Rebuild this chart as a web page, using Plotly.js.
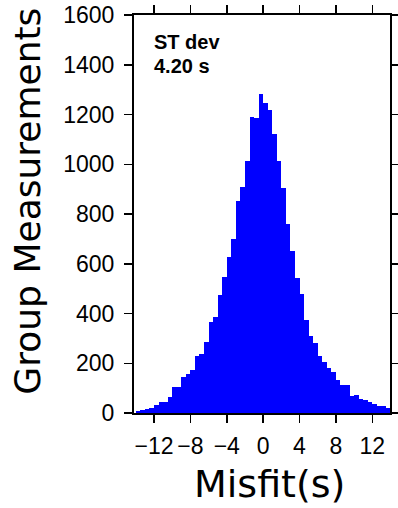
<!DOCTYPE html>
<html>
<head>
<meta charset="utf-8">
<script src="https://cdn.plot.ly/plotly-3.0.1.min.js"></script>
<style>html,body{margin:0;padding:0;background:#fff;}#chart{width:398px;height:508px;}</style>
</head>
<body>
<div id="chart"></div>
<script>
// Bin centers (bin width 0.5 s), from -13.75 to 13.75
var binCenters = [-13.75,-13.25,-12.75,-12.25,-11.75,-11.25,-10.75,-10.25,-9.75,-9.25,
  -8.75,-8.25,-7.75,-7.25,-6.75,-6.25,-5.75,-5.25,-4.75,-4.25,
  -3.75,-3.25,-2.75,-2.25,-1.75,-1.25,-0.75,-0.25,
  0.25,0.75,1.25,1.75,2.25,2.75,3.25,3.75,4.25,4.75,
  5.25,5.75,6.25,6.75,7.25,7.75,8.25,8.75,9.25,9.75,
  10.25,10.75,11.25,11.75,12.25,12.75,13.25,13.75];
var counts = [8,14,18,20,31,43,44,63,103,103,
  143,156,171,228,236,284,365,385,474,546,
  626,699,852,908,1014,1190,1186,1282,
  1246,1218,1121,1013,904,759,651,542,478,374,
  309,280,228,204,180,164,132,111,111,67,
  71,58,51,46,35,30,27,19];
var binWidth = 0.5;
var xTickVals = [-12,-8,-4,0,4,8,12];
var yTickVals = [0,200,400,600,800,1000,1200,1400,1600];
var xTitle = "Misfit(s)";
var yTitle = "Group Measurements";
var statLabel = "ST dev";
var statValue = "4.20 s";

var trace = {
  type: 'bar',
  x: binCenters,
  y: counts,
  width: binCenters.map(function(){return binWidth;}),
  marker: {color: '#0000FF', line: {width: 0}},
  hoverinfo: 'x+y'
};

var tickFont = {family: 'Liberation Sans, Arial, sans-serif', size: 23, color: '#000'};

var layout = {
  width: 398, height: 508,
  margin: {l: 134, r: 8, t: 15, b: 95, pad: 0},
  paper_bgcolor: '#ffffff', plot_bgcolor: '#ffffff',
  showlegend: false,
  bargap: 0,
  font: {family: 'Liberation Sans, Arial, sans-serif', color: '#000'},
  xaxis: {
    range: [-14.2, 13.95],
    tickvals: xTickVals,
    ticks: 'outside', ticklen: 8, tickwidth: 1.5, tickcolor: '#000',
    showline: true, linecolor: '#000', linewidth: 2, mirror: 'ticks',
    showgrid: false, zeroline: false,
    tickfont: tickFont,
    ticklabelstandoff: 3
  },
  yaxis: {
    range: [0, 1600],
    tickvals: yTickVals,
    ticks: 'outside', ticklen: 8, tickwidth: 1.5, tickcolor: '#000',
    showline: true, linecolor: '#000', linewidth: 2, mirror: 'ticks',
    showgrid: false, zeroline: false,
    tickfont: tickFont,
    ticklabelstandoff: 5
  },
  annotations: [
    {
      xref: 'paper', yref: 'paper', x: 0.531, y: -0.178,
      xanchor: 'center', yanchor: 'middle', showarrow: false,
      text: xTitle,
      font: {family: 'DejaVu Sans, sans-serif', size: 38, color: '#000'}
    },
    {
      xref: 'paper', yref: 'paper', x: -0.415, y: 0.533,
      xanchor: 'center', yanchor: 'middle', showarrow: false, textangle: -90,
      text: yTitle,
      font: {family: 'DejaVu Sans, sans-serif', size: 36, color: '#000'}
    },
    {
      xref: 'paper', yref: 'paper', x: 0.07, y: 0.966,
      xanchor: 'left', yanchor: 'top', align: 'left', showarrow: false,
      text: '<b>' + statLabel + '</b>',
      font: {family: 'Liberation Sans, Arial, sans-serif', size: 20, color: '#000'}
    },
    {
      xref: 'paper', yref: 'paper', x: 0.07, y: 0.905,
      xanchor: 'left', yanchor: 'top', align: 'left', showarrow: false,
      text: '<b>' + statValue + '</b>',
      font: {family: 'Liberation Sans, Arial, sans-serif', size: 20, color: '#000'}
    }
  ]
};

Plotly.newPlot('chart', [trace], layout, {displayModeBar: false, staticPlot: true});
</script>
</body>
</html>
